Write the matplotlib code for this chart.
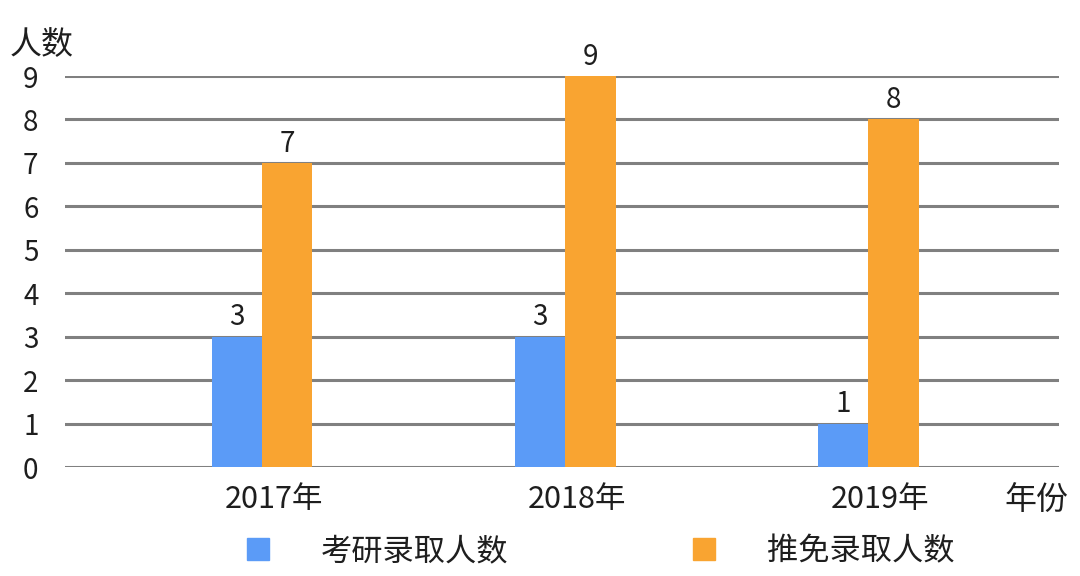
import matplotlib.pyplot as plt
import matplotlib.transforms as mtransforms
from matplotlib.patches import Patch
import numpy as np

plt.rcParams['font.family'] = ['Noto Sans CJK SC', 'DejaVu Sans']

years = ['2017年', '2018年', '2019年']
kaoyan = [3, 3, 1]
tuimian = [7, 9, 8]
series_names = ['考研录取人数', '推免录取人数']
yticks = list(range(10))

blue = '#5B9BF7'
orange = '#F9A431'
grid_col = '#808080'
txt_col = '#1E1E1E'

fig = plt.figure(figsize=(10.8, 5.76), dpi=100)
ax = fig.add_axes([0.060, 0.189, 0.921, 0.679])

x = np.arange(len(years))
w = 0.166
b1 = ax.bar(x - w / 2, kaoyan, w, color=blue, zorder=3)
b2 = ax.bar(x + w / 2, tuimian, w, color=orange, zorder=3)

for bars in (b1, b2):
    for r in bars:
        ax.text(r.get_x() + r.get_width() / 2, r.get_height() + 0.1,
                str(int(r.get_height())), ha='center', va='bottom',
                fontsize=20, color=txt_col, fontweight='light')

ax.set_xlim(-0.65, 2.63)
ax.set_ylim(0, 9)
ax.set_yticks(yticks)
ax.set_yticklabels([str(v) for v in yticks], fontsize=20, color=txt_col,
                   fontweight='light')
ax.set_xticks(x)
ax.set_xticklabels(years, fontsize=22, color=txt_col, fontweight='light')
ax.tick_params(axis='both', length=0)
ax.tick_params(axis='y', pad=19)
ax.tick_params(axis='x', pad=12)

# labels in the original sit a little right of the bar groups
shift = mtransforms.ScaledTranslation(12 / 100, 0, fig.dpi_scale_trans)
for lab in ax.get_xticklabels():
    lab.set_transform(lab.get_transform() + shift)

for v in yticks:
    ax.axhline(v, color=grid_col, lw=2.2, zorder=1)
for s in ax.spines.values():
    s.set_visible(False)

fig.text(0.009, 0.922, '人数', fontsize=23, color=txt_col, va='center')
fig.text(0.930, 0.130, '年份', fontsize=23, color=txt_col, va='center')

handles = [Patch(color=blue), Patch(color=orange)]
fig.legend(handles, series_names, loc='center', bbox_to_anchor=(0.556, 0.043),
           ncol=2, frameon=False, fontsize=22.5, handlelength=0.72,
           handleheight=0.72, handletextpad=1.65, columnspacing=5.9,
           labelcolor=txt_col)

fig.savefig('out.png', dpi=100)
